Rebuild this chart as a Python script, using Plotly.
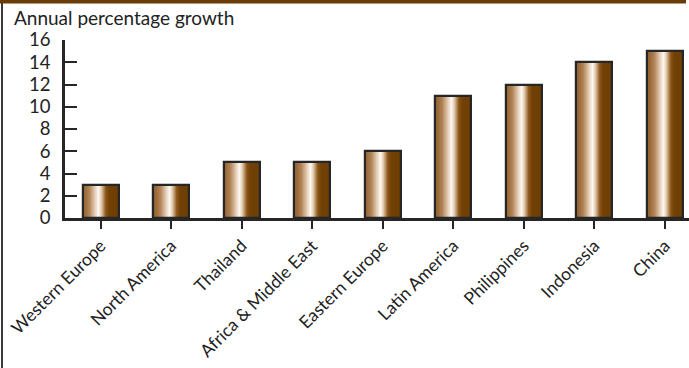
import plotly.graph_objects as go

# ---- data ----
categories = ["Western Europe", "North America", "Thailand", "Africa & Middle East",
              "Eastern Europe", "Latin America", "Philippines", "Indonesia", "China"]
growth = [3, 3, 5, 5, 6, 11, 12, 14, 15]
y_ticks = [0, 2, 4, 6, 8, 10, 12, 14, 16]
y_title = "Annual percentage growth"

# ---- style ----
W, H = 689, 368
ML, MR, MT, MB = 65, 0, 40, 150
FONT = "Lato"
INK = "#262626"
BAR_W = 0.51
N_SLICES = 36

# gradient stops (position across bar, rgb)
stops = [
    (0.00, (140, 90, 40)),
    (0.20, (175, 130, 85)),
    (0.38, (235, 215, 195)),
    (0.46, (252, 248, 244)),
    (0.54, (225, 200, 170)),
    (0.66, (140, 85, 25)),
    (0.76, (112, 64, 4)),
    (1.00, (110, 62, 2)),
]


def grad(t):
    for (p0, c0), (p1, c1) in zip(stops[:-1], stops[1:]):
        if p0 <= t <= p1:
            f = (t - p0) / (p1 - p0) if p1 > p0 else 0
            c = [round(a + (b - a) * f) for a, b in zip(c0, c1)]
            return "rgb(%d,%d,%d)" % tuple(c)
    return "rgb(%d,%d,%d)" % stops[-1][1]


fig = go.Figure()
sw = BAR_W / N_SLICES
for i in range(N_SLICES):
    t = (i + 0.5) / N_SLICES
    width = sw * 1.6 if i < N_SLICES - 1 else sw
    fig.add_trace(go.Bar(
        x=categories, y=growth,
        width=[width] * len(categories),
        offset=[-BAR_W / 2 + i * sw] * len(categories),
        marker=dict(color=grad(t), line=dict(width=0)),
        hoverinfo="skip", showlegend=False,
    ))

# outline
fig.add_trace(go.Bar(
    x=categories, y=growth,
    width=[BAR_W] * len(categories),
    offset=[-BAR_W / 2] * len(categories),
    marker=dict(color="rgba(0,0,0,0)", line=dict(width=2.2, color=INK)),
    showlegend=False,
))

pw = W - ML - MR
ph = H - MT - MB


def px_x(px):
    return (px - ML) / pw


def px_y(py):
    return (H - MB - py) / ph


shapes = [
    # top brown band
    dict(type="rect", xref="paper", yref="paper",
         x0=px_x(0), x1=px_x(686), y0=px_y(3.5), y1=px_y(0),
         fillcolor="#6a3c08", line=dict(width=0), layer="above"),
    # left border line
    dict(type="line", xref="paper", yref="paper",
         x0=px_x(2), x1=px_x(2), y0=px_y(368), y1=px_y(3),
         line=dict(color="#3a3a3a", width=2), layer="above"),
]

fig.update_layout(
    width=W, height=H,
    margin=dict(l=ML, r=MR, t=MT, b=MB, autoexpand=False),
    barmode="overlay",
    bargap=0,
    plot_bgcolor="white", paper_bgcolor="white",
    font=dict(family=FONT, size=19, color="#222222"),
    shapes=shapes,
    annotations=[dict(
        text=y_title, xref="paper", yref="paper",
        x=px_x(12), y=px_y(18), xanchor="left", yanchor="middle",
        showarrow=False, font=dict(family=FONT, size=19, color="#222222"),
    )],
    xaxis=dict(
        type="category", categoryorder="array", categoryarray=categories,
        range=[-0.506, 8.34], automargin=False,
        showline=True, linecolor=INK, linewidth=2.5,
        ticks="outside", ticklen=8, tickwidth=1.5, tickcolor=INK,
        tickangle=-45, tickfont=dict(family=FONT, size=17.5),
        showgrid=False, zeroline=False,
    ),
    yaxis=dict(
        range=[0, 16], tickvals=y_ticks, automargin=False,
        showline=True, linecolor=INK, linewidth=2.5,
        ticks="inside", ticklen=12, tickwidth=1.5, tickcolor=INK,
        ticklabelstandoff=8,
        tickfont=dict(family=FONT, size=18.5),
        showgrid=False, zeroline=False,
    ),
)

fig.write_html(
    "out.html",
    config={"displayModeBar": False},
    post_script="document.body.style.margin='0';document.body.style.overflow='hidden';",
)
